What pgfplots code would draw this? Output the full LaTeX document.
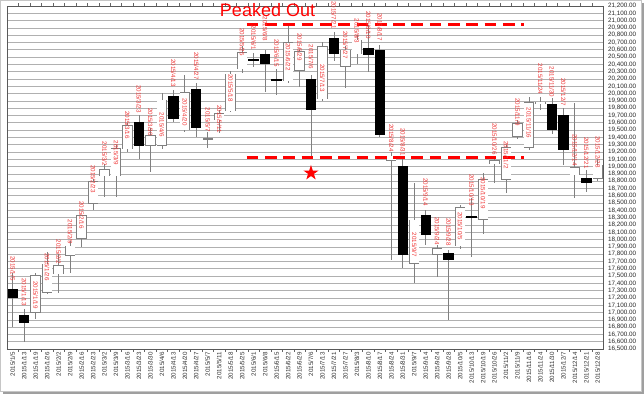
\documentclass[border=0pt]{standalone}
\usepackage{pgfplots}
\pgfplotsset{compat=1.18}
\usepackage{pgfplotstable}
\usepackage{fontspec}
\setmainfont{Liberation Sans}
\definecolor{wick}{HTML}{808080}
\definecolor{lblred}{HTML}{F03838}
\definecolor{gridc}{HTML}{B0B0B0}
\pgfdeclareplotmark{fstar}{%
  \pgfpathmoveto{\pgfpoint{0pt}{8pt}}%
  \pgfpathlineto{\pgfpoint{-1.796pt}{2.472pt}}%
  \pgfpathlineto{\pgfpoint{-7.608pt}{2.472pt}}%
  \pgfpathlineto{\pgfpoint{-2.906pt}{-0.944pt}}%
  \pgfpathlineto{\pgfpoint{-4.702pt}{-6.472pt}}%
  \pgfpathlineto{\pgfpoint{0pt}{-3.056pt}}%
  \pgfpathlineto{\pgfpoint{4.702pt}{-6.472pt}}%
  \pgfpathlineto{\pgfpoint{2.906pt}{-0.944pt}}%
  \pgfpathlineto{\pgfpoint{7.608pt}{2.472pt}}%
  \pgfpathlineto{\pgfpoint{1.796pt}{2.472pt}}%
  \pgfpathclose\pgfusepathqfill}

\pgfplotstableread{
i o h l c ly lab
0 17323 17540 16806 17197 17604 2015/1/5
1 16967 17050 16592 16861 17282 2015/1/13
2 16998 17540 16912 17505 17241 2015/1/19
3 17278 17834 17250 17665 17624 2015/1/26
4 17528 17800 17272 17642 17830 2015/2/2
5 17784 17980 17546 17912 18104 2015/2/9
6 18018 18340 17903 18333 18337 2015/2/16
7 18497 18830 18405 18793 18830 2015/2/23
8 18871 19035 18588 18958 19172 2015/3/2
9 18871 19300 18580 19251 19186 2015/3/9
10 19241 19590 19200 19560 19570 2015/3/16
11 19607 19707 19099 19287 19926 2015/3/23
12 19286 19530 18930 19424 19611 2015/3/30
13 19286 20004 19241 19912 19570 2015/4/6
14 19967 20049 19615 19652 20282 2015/4/13
15 19501 20255 19470 20017 19748 2015/4/20
16 20063 20141 19410 19533 20378 2015/4/27
17 19376 19479 19260 19380 19638 2015/5/7
18 19638 19775 19465 19730 19652 2015/5/11
19 19762 20314 19750 20268 20077 2015/5/18
20 20337 20655 20280 20566 20707 2015/5/25
21 20470 20560 20370 20460 20762 2015/6/1
22 20538 20600 20026 20405 20885 2015/6/8
23 20200 20330 19981 20172 20556 2015/6/15
24 20172 20952 20150 20697 20501 2015/6/22
25 20314 20600 20095 20574 20638 2015/6/29
26 20196 20255 19135 19780 20501 2015/7/6
27 19926 20700 19900 20642 20214 2015/7/13
28 20766 20850 20450 20542 21077 2015/7/21
29 20369 20650 20072 20597 20666 2015/7/27
30 20542 20800 20405 20734 20857 2015/8/3
31 20620 20946 20300 20529 20940 2015/8/10
32 20597 20663 19400 19433 20912 2015/8/17
33 19081 19200 17720 19145 19392 2015/8/24
34 19008 19150 17607 17789 19337 2015/8/31
35 17675 18771 17410 18268 17926 2015/9/7
36 18337 18400 17926 18063 18652 2015/9/14
37 17797 17930 17483 17880 18117 2015/9/24
38 17811 17850 16898 17720 18104 2015/9/28
39 17912 18470 17866 18437 18186 2015/10/5
40 18327 18566 17756 18291 18679 2015/10/13
41 18277 18908 18073 18825 18638 2015/10/19
42 19036 19150 18771 19081 19378 2015/10/26
43 18825 19300 18642 19264 19159 2015/11/2
44 19410 19640 19380 19593 19748 2015/11/9
45 19264 19958 19227 19880 19597 2015/11/16
46 19870 19955 19780 19884 20200 2015/11/24
47 19857 19940 19446 19501 20159 2015/11/30
48 19707 19800 19022 19227 20022 2015/12/7
49 18885 19867 18566 18985 19227 2015/12/14
50 18839 18953 18656 18771 19186 2015/12/21
51 18839 19100 18800 19022 19200 2015/12/28
}\candles

\begin{document}
\begin{tikzpicture}
\useasboundingbox (0,0) rectangle (644pt,394pt);
\fill[gray!75] (3pt,0.5pt) rectangle (643.5pt,391pt);
\filldraw[fill=white, draw=gray!45, line width=0.6pt] (0.3pt,3pt) rectangle (641pt,393.7pt);
\begin{axis}[
  at={(7pt,45pt)}, anchor=south west,
  width=596.5pt, height=343pt, scale only axis,
  xmin=-0.5, xmax=51.5, ymin=16500, ymax=21200,
  clip=false,
  axis line style={black!65, line width=0.8pt},
  xtick={0,...,51},
  xticklabels={2015/1/5,2015/1/13,2015/1/19,2015/1/26,2015/2/2,2015/2/9,2015/2/16,2015/2/23,2015/3/2,2015/3/9,2015/3/16,2015/3/23,2015/3/30,2015/4/6,2015/4/13,2015/4/20,2015/4/27,2015/5/7,2015/5/11,2015/5/18,2015/5/25,2015/6/1,2015/6/8,2015/6/15,2015/6/22,2015/6/29,2015/7/6,2015/7/13,2015/7/21,2015/7/27,2015/8/3,2015/8/10,2015/8/17,2015/8/24,2015/8/31,2015/9/7,2015/9/14,2015/9/24,2015/9/28,2015/10/5,2015/10/13,2015/10/19,2015/10/26,2015/11/2,2015/11/9,2015/11/16,2015/11/24,2015/11/30,2015/12/7,2015/12/14,2015/12/21,2015/12/28},
  minor x tick num=1,
  tick align=outside,
  major tick length=0pt,
  minor tick length=2.5pt,
  minor tick style={black!60, line width=0.5pt},
  x tick label style={yshift=-3pt, rotate=90, anchor=east, inner sep=0pt, font=\fontsize{6.2}{7}\selectfont, text=black!80},
  ytick={16500,16600,...,21200},
  yticklabel pos=right,
  scaled y ticks=false,
  /pgf/number format/assume math mode=true,
  y tick label style={anchor=west, inner sep=0pt, xshift=4.5pt, font=\fontsize{6.3}{7}\selectfont, text=black!85,
     /pgf/number format/.cd, fixed, fixed zerofill, precision=2, 1000 sep={,}},
  ymajorgrids,
  major grid style={gridc, line width=0.6pt},
]
% wicks
\addplot[draw=none, mark=none, forget plot,
  error bars/.cd, y dir=both, y explicit, error mark=none,
  error bar style={draw=wick, line width=0.7pt, solid}]
  table[x=i, y expr={(\thisrow{h}+\thisrow{l})/2}, y error expr={(\thisrow{h}-\thisrow{l})/2}]{\candles};
% black bodies
\addplot[draw=none, mark=none, forget plot,
  restrict expr to domain={\thisrow{o}-\thisrow{c}}{0.5:100000},
  error bars/.cd, y dir=both, y explicit, error mark=none,
  error bar style={draw=black, line width=10.4pt, solid}]
  table[x=i, y expr={(\thisrow{o}+\thisrow{c})/2}, y error expr={(\thisrow{o}-\thisrow{c})/2}]{\candles};
% white bodies: outline
\addplot[draw=none, mark=none, forget plot,
  restrict expr to domain={\thisrow{c}-\thisrow{o}}{0:100000},
  error bars/.cd, y dir=both, y explicit, error mark=none,
  error bar style={draw=wick, line width=10.4pt, solid}]
  table[x=i, y expr={(\thisrow{o}+\thisrow{c})/2}, y error expr={(\thisrow{c}-\thisrow{o})/2+5}]{\candles};
% white bodies: fill
\addplot[draw=none, mark=none, forget plot,
  restrict expr to domain={\thisrow{c}-\thisrow{o}}{0:100000},
  error bars/.cd, y dir=both, y explicit, error mark=none,
  error bar style={draw=white, line width=9.0pt, solid}]
  table[x=i, y expr={(\thisrow{o}+\thisrow{c})/2}, y error expr={max((\thisrow{c}-\thisrow{o})/2-5,0)}]{\candles};
% date labels
\addplot[draw=none, mark=none, forget plot, point meta=explicit symbolic,
  nodes near coords={\pgfplotspointmeta}, nodes near coords align=center,
  every node near coord/.append style={rotate=-90, anchor=center, inner sep=0pt, text=lblred, font=\fontsize{6.2}{6.2}\selectfont}]
  table[x=i, y=ly, meta=lab]{\candles};
% peak / support lines
\addplot[red, line width=3pt, dash pattern=on 11.7pt off 6.6pt, forget plot] coordinates {(20.4,20950) (44.6,20950)};
\addplot[red, line width=3pt, dash pattern=on 11.7pt off 6.6pt, forget plot] coordinates {(20.4,19127) (44.6,19127)};
% star
\addplot[only marks, mark=fstar, red, forget plot] coordinates {(26,18912)};
\node[anchor=base west, text=red, font=\fontsize{18}{20}\selectfont, inner sep=0pt] at (axis cs:18.05,21053) {Peaked Out};
\end{axis}
\end{tikzpicture}
\end{document}
